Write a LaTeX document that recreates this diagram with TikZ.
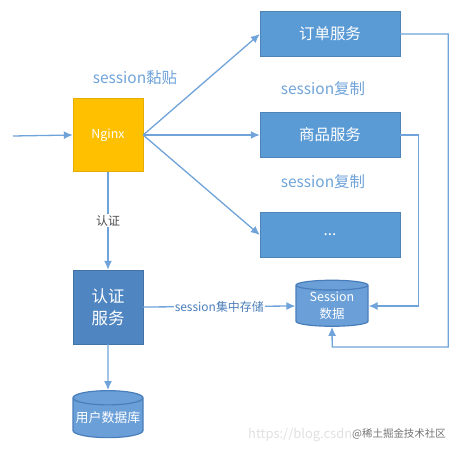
\documentclass[tikz,border=0pt]{standalone}
\usepackage{fontspec}
\setmainfont{Noto Sans CJK SC}
\usetikzlibrary{arrows.meta,shapes.geometric}
\definecolor{boxblue}{HTML}{5B9BD5}
\definecolor{authblue}{HTML}{4F86C2}
\definecolor{dbblue}{HTML}{6A9FD8}
\definecolor{dbline}{HTML}{4A7EBB}
\definecolor{nginxorange}{HTML}{FFC000}
\definecolor{linkblue}{HTML}{6FA3D9}

\begin{document}
\begin{tikzpicture}[x=1bp,y=-1bp,
	svc/.style={fill=boxblue,draw=boxblue!85!black,line width=0.4pt,minimum width=140bp,minimum height=45bp,text=white,font=\fontsize{15.5}{17}\selectfont},
	db/.style={cylinder,shape border rotate=90,aspect=0.22,fill=dbblue,draw=dbline,line width=1.2pt,text=white,align=center,inner sep=0pt},
	link/.style={draw=linkblue,line width=1.3pt,-{Latex[length=9bp,width=8bp]}},
	note/.style={text=linkblue,font=\fontsize{15.5}{17}\selectfont}]
	\useasboundingbox (0,0) rectangle (456,452);
	% boxes
	\node[fill=nginxorange,draw=nginxorange!90!black,minimum width=70bp,minimum height=73bp,text=white,font=\fontsize{12.5}{14}\selectfont] (nginx) at (108,135) {Nginx};
	\node[svc] (order) at (330,34) {订单服务};
	\node[svc] (goods) at (330,135) {商品服务};
	\node[svc] (more) at (330,235) {...};
	\node[fill=authblue,draw=authblue!85!black,minimum width=70bp,minimum height=74bp,text=white,align=center,font=\fontsize{16.5}{22}\selectfont] (auth) at (108,307) {认证\\服务};
	\node[db,minimum width=72bp,minimum height=46bp,font=\fontsize{12.5}{17}\selectfont] (sess) at (332,306) {Session\\数据};
	\node[db,minimum width=70bp,minimum height=47bp,font=\fontsize{13}{15}\selectfont] (userdb) at (108,418) {用户数据库};
	\coordinate (in) at (13,136);
	% arrows
	\draw[link] (in) -- (nginx.west);
	\draw[link] (nginx.east) -- (order.west);
	\draw[link] (nginx.east) -- (goods.west);
	\draw[link] (nginx.east) -- (more.west);
	\draw[link] (nginx.south) -- node[fill=white,text=black!70,font=\fontsize{12}{13}\selectfont,inner sep=1pt] {认证} (auth.north);
	\draw[link] (auth.east) -- node[fill=white,text=dbline,font=\fontsize{12}{13}\selectfont,inner sep=1pt] {session集中存储} (sess.west);
	\draw[link] (auth.south) -- (userdb.north);
	\draw[link] (order.east) -- ++(48,0) |- ++(-116,313) coordinate (turn) -- (sess.south);
	\draw[link] (goods.east) -- ++(18,0) |- (sess.east);
	% labels
	\node[note] (stick) at (135,78) {session黏贴};
	\node[note] (copya) at (323,89) {session复制};
	\node[note] (copyb) at (323,182) {session复制};
	\node[text=black!12,font=\fontsize{13}{15}\selectfont,anchor=east,inner sep=0pt] (wmurl) at (356,435) {https://blog.csdn.};
	\node[text=black!55,font=\fontsize{10.5}{12}\selectfont,anchor=east,inner sep=0pt] (wmname) at (446,434) {@稀土掘金技术社区};
\end{tikzpicture}
\end{document}
